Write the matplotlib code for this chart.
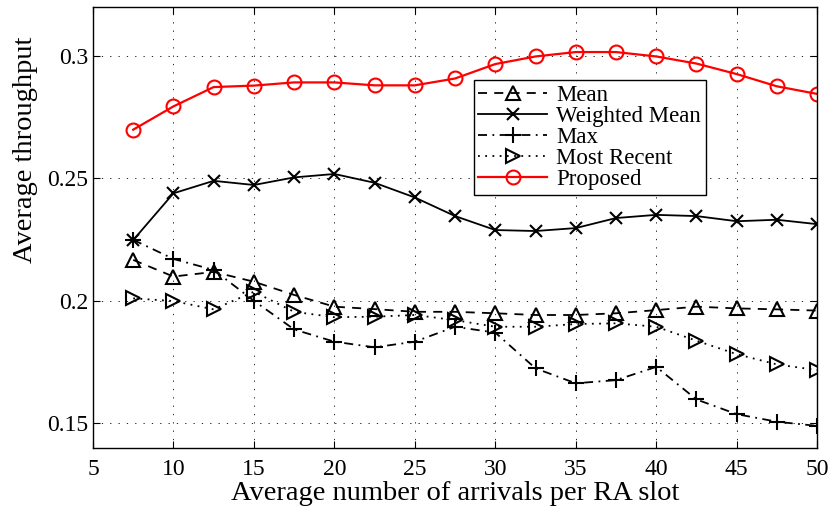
import numpy as np
import matplotlib
matplotlib.use('Agg')
import matplotlib.pyplot as plt

plt.rcParams['font.family'] = ['Liberation Serif', 'DejaVu Serif']

arrivals = [7.5, 10, 12.5, 15, 17.5, 20, 22.5, 25, 27.5, 30, 32.5, 35, 37.5, 40, 42.5, 45, 47.5, 50]

mean = [0.2167, 0.2099, 0.2118, 0.2078, 0.2024, 0.1976, 0.1966, 0.1955, 0.1955,
        0.1949, 0.1942, 0.1942, 0.1949, 0.1962, 0.1976, 0.1969, 0.1965, 0.1960]
weighted_mean = [0.2248, 0.2439, 0.2490, 0.2473, 0.2504, 0.2518, 0.2482, 0.2422, 0.2346,
                 0.2289, 0.2285, 0.2297, 0.2338, 0.2351, 0.2346, 0.2325, 0.2331, 0.2313]
max_ = [0.2249, 0.2171, 0.2126, 0.2000, 0.1883, 0.1833, 0.1810, 0.1833, 0.1894,
        0.1870, 0.1724, 0.1663, 0.1676, 0.1730, 0.1597, 0.1537, 0.1506, 0.1489]
most_recent = [0.2010, 0.1999, 0.1965, 0.2037, 0.1955, 0.1933, 0.1935, 0.1942, 0.1921,
               0.1894, 0.1894, 0.1905, 0.1908, 0.1894, 0.1837, 0.1782, 0.1740, 0.1717]
proposed = [0.2699, 0.2794, 0.2873, 0.2879, 0.2892, 0.2892, 0.2880, 0.2880, 0.2908,
            0.2967, 0.2998, 0.3016, 0.3016, 0.2998, 0.2969, 0.2926, 0.2876, 0.2845]

fig = plt.figure(figsize=(8.33, 5.15), dpi=100)
ax = fig.add_axes([0.1116, 0.1307, 0.8694, 0.8557])

lw = 1.3
ms = 10
ax.plot(arrivals, mean, ls=(0, (5, 4)), color='k', lw=lw, marker='^', ms=ms, mfc='none', mew=1.5, label='Mean')
ax.plot(arrivals, weighted_mean, '-', color='k', lw=lw, marker='x', ms=8, mew=1.5, label='Weighted Mean')
ax.plot(arrivals, max_, ls=(0, (5, 3, 1, 3)), color='k', lw=lw, marker='+', ms=11, mew=1.5, label='Max')
ax.plot(arrivals, most_recent, ls=(0, (1, 3)), color='k', lw=lw, marker='>', ms=ms, mfc='none', mew=1.5, label='Most Recent')
ax.plot(arrivals, proposed, '-', color='red', lw=1.6, marker='o', ms=ms, mfc='none', mew=1.5, label='Proposed')

ax.set_xlim(5, 50)
ax.set_ylim(0.14, 0.32)
ax.set_xticks(np.arange(5, 51, 5))
ax.set_yticks([0.15, 0.2, 0.25, 0.3])
ax.set_yticklabels(['0.15', '0.2', '0.25', '0.3'])
ax.grid(True, linestyle=(0, (1.5, 8.5)), color='k', lw=0.6)
ax.tick_params(direction='in', top=True, right=True, labelsize=17, length=5)
ax.tick_params(axis='x', pad=8)
for s in ax.spines.values():
    s.set_linewidth(1.0)

ax.set_xlabel('Average number of arrivals per RA slot', fontsize=20.5, labelpad=1)
ax.set_ylabel('Average throughput', fontsize=20.5)
ax.yaxis.set_label_coords(-0.076, 0.675)

leg = ax.legend(loc='upper left', bbox_to_anchor=(0.526, 0.834), fontsize=16.5,
                frameon=True, fancybox=False, edgecolor='k', framealpha=1,
                borderpad=0.2, labelspacing=0.0, handlelength=3.0, handletextpad=0.4,
                borderaxespad=0)
leg.get_frame().set_linewidth(1.0)

fig.savefig('out.png', dpi=100)
